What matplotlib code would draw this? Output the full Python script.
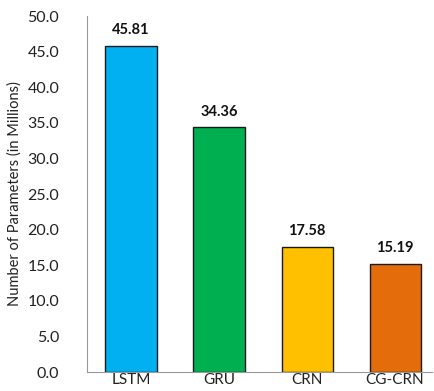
import matplotlib
matplotlib.use("Agg")
import matplotlib.pyplot as plt

categories = ["LSTM", "GRU", "CRN", "CG-CRN"]
values = [45.81, 34.36, 17.58, 15.19]
colors = ["#00B0F0", "#00B050", "#FFC000", "#E46C0A"]
yticks = [0, 5, 10, 15, 20, 25, 30, 35, 40, 45, 50]

plt.rcParams['font.family'] = ['Lato', 'DejaVu Sans']

fig = plt.figure(figsize=(4.35, 3.91), dpi=100)
ax = fig.add_axes([87/435, 1 - 372/391, (432 - 87)/435, (372 - 16)/391])

x = list(range(len(categories)))
bars = ax.bar(x, values, width=0.58, color=colors, edgecolor="#1a1a1a", linewidth=1.0)
for xi, v in zip(x, values):
    ax.text(xi, v + 1.2, f"{v:.2f}", ha="center", va="bottom", fontsize=10.5, fontweight="bold", color="#111111")

ax.set_xlim(-0.5, 3.42)
ax.set_ylim(0, 50)
ax.set_yticks(yticks)
ax.set_yticklabels([f"{t:.1f}" for t in yticks], fontsize=11.5, color="#222222")
ax.set_xticks(x)
ax.set_xticklabels(categories, fontsize=11, color="#222222")
ax.tick_params(axis="x", length=0, pad=1)
ax.tick_params(axis="y", length=0, pad=20)
ax.spines["top"].set_visible(False)
ax.spines["right"].set_visible(False)
ax.spines["left"].set_color("#999999")
ax.spines["bottom"].set_color("#999999")
ax.set_ylabel("Number of Parameters (in Millions)", fontsize=10.5, color="#222222",
              va="center", ha="center")
ax.yaxis.set_label_coords(-72/345, 0.5)

fig.savefig("out.png", dpi=100)
